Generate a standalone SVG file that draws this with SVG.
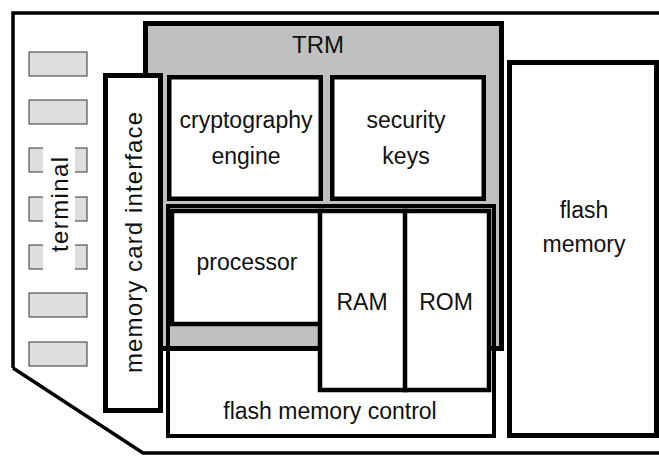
<svg xmlns="http://www.w3.org/2000/svg" width="659" height="456" viewBox="0 0 659 456">
  <style>
    .lbl { font-family: "Liberation Sans", Arial, sans-serif; font-size: 23px; fill: #111; text-anchor: middle; }
    .vlbl { font-family: "Liberation Sans", Arial, sans-serif; font-size: 24px; fill: #111; text-anchor: middle; }
    .box { fill: #fff; stroke: #000; stroke-width: 4.5; }
    .pad { fill: #dedede; stroke: #333; stroke-width: 1; }
  </style>
  <rect x="0" y="0" width="659" height="456" fill="#fff"/>

  <!-- card outline with clipped corner -->
  <g id="card">
    <path d="M13,368 V13 H659 M13,368 L143,453 H659" fill="none" stroke="#000" stroke-width="3.5"/>
  </g>

  <!-- contact pads -->
  <g id="terminal">
    <rect class="pad" x="29" y="52" width="58" height="24"/>
    <rect class="pad" x="29" y="100" width="58" height="24"/>
    <rect class="pad" x="29" y="148" width="58" height="24"/>
    <rect class="pad" x="29" y="197" width="58" height="24"/>
    <rect class="pad" x="29" y="245" width="58" height="24"/>
    <rect class="pad" x="29" y="293" width="58" height="24"/>
    <rect class="pad" x="29" y="342" width="58" height="24"/>
    <rect x="43" y="144" width="32" height="128" fill="#fff"/>
    <text class="vlbl" transform="translate(68,204.5) rotate(-90)" textLength="95" lengthAdjust="spacing">terminal</text>
  </g>

  <!-- tamper resistant module -->
  <g id="trm">
    <rect x="145.5" y="23.5" width="356" height="325" fill="#c0c0c0" stroke="#000" stroke-width="5"/>
    <text class="lbl" x="318" y="53" style="font-size:24px">TRM</text>
  </g>

  <g id="flash-memory-control">
    <rect x="168" y="206" width="326" height="230" fill="none" stroke="#000" stroke-width="4"/>
    <text class="lbl" x="330" y="419">flash memory control</text>
  </g>

  <g id="memory-card-interface">
    <rect x="105.5" y="75.5" width="55" height="335" fill="#fff" stroke="#000" stroke-width="5"/>
    <text class="vlbl" transform="translate(142,242.5) rotate(-90)" textLength="261" lengthAdjust="spacing">memory card interface</text>
  </g>

  <g id="cryptography-engine">
    <rect class="box" x="169.25" y="77.25" width="151.5" height="121.5"/>
    <text class="lbl" x="246" y="128">cryptography</text>
    <text class="lbl" x="246" y="164">engine</text>
  </g>

  <g id="security-keys">
    <rect class="box" x="332.25" y="77.25" width="151.5" height="121.5"/>
    <text class="lbl" x="406" y="128">security</text>
    <text class="lbl" x="406" y="164">keys</text>
  </g>

  <g id="processor">
    <rect class="box" x="172" y="211" width="149" height="113" stroke-width="4"/>
    <text class="lbl" x="247" y="270">processor</text>
  </g>

  <g id="ram">
    <rect class="box" x="320" y="211" width="86" height="179" stroke-width="4"/>
    <text class="lbl" x="362" y="310">RAM</text>
  </g>

  <g id="rom">
    <rect class="box" x="405" y="211" width="84" height="179" stroke-width="4"/>
    <text class="lbl" x="446" y="310">ROM</text>
  </g>

  <g id="flash-memory">
    <rect x="509.5" y="62.5" width="147" height="373" fill="#fff" stroke="#000" stroke-width="5"/>
    <text class="lbl" x="584" y="218">flash</text>
    <text class="lbl" x="584" y="252">memory</text>
  </g>

  <g id="connectors"/>
</svg>
